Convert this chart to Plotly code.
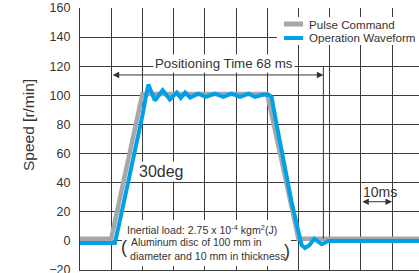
import plotly.graph_objects as go

# ---- data ----
cmd_t = [0, 10, 20, 60, 70, 108.7]
cmd_v = [1.5, 1.5, 101, 101, 1.5, 1.5]

op_t = [0, 11.2, 14, 17, 20, 21.2, 21.9, 24, 26.5, 28.8, 31, 32.3, 33.7, 35.3, 37.9,
        40.3, 43.3, 45.9, 48.6, 51.3, 54, 56.1, 58.8, 60.6, 61.4, 63, 64.6, 65.7,
        67.8, 70, 71, 72.1, 73.5, 75.1, 77.5, 79.6, 108.7]
op_v = [-1.5, -1.5, 26, 55, 86, 100, 107.4, 96.5, 103.5, 97.2, 101.9, 98.2, 101.9, 98.4, 101.2,
        98.9, 101.2, 98.9, 101.2, 98.9, 101.2, 98.9, 100.5, 100.3, 99, 80, 62, 50.6,
        27, 6.4, -2.8, -4.9, -3, 1.4, -2.3, 0, 0]

series_names = ["Pulse Command", "Operation Waveform"]
y_ticks = [-20, 0, 20, 40, 60, 80, 100, 120, 140, 160]
pos_start, pos_end = 10, 78          # positioning time span (ms)
scale_start, scale_end = 90, 100     # 10 ms scale bar

GRAY = "#A5A7AA"
BLUE = "#00A0E9"
INK = "#333333"
GRID = "#3c3c3c"
REG = "Liberation Sans, Arial, Helvetica, sans-serif"

fig = go.Figure()
fig.add_trace(go.Scatter(x=cmd_t, y=cmd_v, mode="lines", name=series_names[0],
                         line=dict(color=GRAY, width=4.5), showlegend=False))
fig.add_trace(go.Scatter(x=op_t, y=op_v, mode="lines", name=series_names[1],
                         line=dict(color=BLUE, width=4), showlegend=False))

fig.update_layout(
    width=419, height=273,
    margin=dict(l=80, r=0, t=8, b=3, autoexpand=False),
    paper_bgcolor="white", plot_bgcolor="white",
    showlegend=False,
    xaxis=dict(range=[0, 108.65], dtick=10, tick0=0, showticklabels=False,
               showgrid=True, gridcolor=GRID, gridwidth=1,
               showline=True, linecolor=GRID, linewidth=1.2,
               zeroline=False, ticks="", automargin=False),
    yaxis=dict(range=[-20, 160], tickvals=y_ticks,
               showgrid=True, gridcolor=GRID, gridwidth=1,
               zeroline=True, zerolinecolor=GRID, zerolinewidth=1,
               showline=True, linecolor=GRID, linewidth=1.2,
               ticks="", ticklabelstandoff=6, automargin=False,
               ticklabeloverflow="allow",
               tickfont=dict(family=REG, size=12.5, color=INK)),
)

# white box behind the inertial-load note (covers gridlines only)
fig.add_shape(type="rect", xref="x", yref="y", x0=13.5, x1=67.6, y0=-17.5, y1=14.4,
              fillcolor="white", line=dict(width=0), layer="between")
# white legend box
fig.add_shape(type="rect", xref="x", yref="y", x0=63.1, x1=108.65, y0=134.6, y1=153.8,
              fillcolor="white", line=dict(width=0), layer="between")
# legend swatches
fig.add_shape(type="line", xref="x", yref="y", x0=65.4, x1=71.5, y0=149.0, y1=149.0,
              line=dict(color=GRAY, width=5), layer="above")
fig.add_shape(type="line", xref="x", yref="y", x0=65.4, x1=71.5, y0=139.4, y1=139.4,
              line=dict(color=BLUE, width=4), layer="above")

# vertical end line of positioning time
fig.add_shape(type="line", xref="x", yref="y", x0=pos_end, x1=pos_end, y0=119.5, y1=1.5,
              line=dict(color=INK, width=1), layer="above")

ann = []
# legend labels
ann.append(dict(text=series_names[0], x=72.8, y=149.0, xref="x", yref="y",
                xanchor="left", showarrow=False,
                font=dict(family=REG, size=11.6, color=INK)))
ann.append(dict(text=series_names[1], x=72.8, y=139.4, xref="x", yref="y",
                xanchor="left", showarrow=False,
                font=dict(family=REG, size=11.6, color=INK)))
# y-axis title
ann.append(dict(text="Speed [r/min]", xref="paper", yref="y", x=0, y=79.6,
                xanchor="center", xshift=-52, textangle=-90, showarrow=False,
                font=dict(family=REG, size=15.5, color=INK)))
# positioning time arrow
ann.append(dict(x=pos_end, y=114, ax=pos_start, ay=114, xref="x", yref="y",
                axref="x", ayref="y", text="", showarrow=True,
                arrowhead=2, arrowside="end+start", arrowsize=1.3,
                arrowwidth=1, arrowcolor=INK, standoff=0, startstandoff=0))
ann.append(dict(text="Positioning Time 68 ms", x=46.2, y=122.2, xref="x", yref="y",
                showarrow=False, bgcolor="white", borderpad=1,
                font=dict(family=REG, size=13.3, color=INK)))
# 30deg
ann.append(dict(text="30deg", x=26, y=47.5, xref="x", yref="y", showarrow=False,
                bgcolor="white", borderpad=1,
                font=dict(family=REG, size=16, color=INK)))
# 10ms scale
ann.append(dict(x=scale_end, y=26.9, ax=scale_start, ay=26.9, xref="x", yref="y",
                axref="x", ayref="y", text="", showarrow=True,
                arrowhead=2, arrowside="end+start", arrowsize=1.3,
                arrowwidth=1, arrowcolor=INK, standoff=0, startstandoff=0))
ann.append(dict(text="10ms", x=96.2, y=33.6, xref="x", yref="y", showarrow=False,
                font=dict(family=REG, size=14, color=INK)))
# inertial-load note
ann.append(dict(text="Inertial load: 2.75 x 10<sup>-4</sup> kgm<sup>2</sup>(J)",
                x=14.4, y=7.5, xref="x", yref="y", xanchor="left", showarrow=False,
                font=dict(family=REG, size=10.6, color=INK)))
ann.append(dict(text="Aluminum disc of 100 mm in", x=15.7, y=-1.4, xref="x", yref="y",
                xanchor="left", showarrow=False,
                font=dict(family=REG, size=10.4, color=INK)))
ann.append(dict(text="diameter and 10 mm in thickness", x=15.4, y=-10.6, xref="x", yref="y",
                xanchor="left", showarrow=False,
                font=dict(family=REG, size=10.6, color=INK)))
ann.append(dict(text="(", x=14.0, y=-4.0, xref="x", yref="y", showarrow=False,
                font=dict(family=REG, size=18, color=INK)))
ann.append(dict(text=")", x=66.3, y=-7.0, xref="x", yref="y", showarrow=False,
                font=dict(family=REG, size=18, color=INK)))

fig.update_layout(annotations=ann)
fig.write_html("out.html", config={"displayModeBar": False},
               post_script="document.body.style.margin='0px';")
